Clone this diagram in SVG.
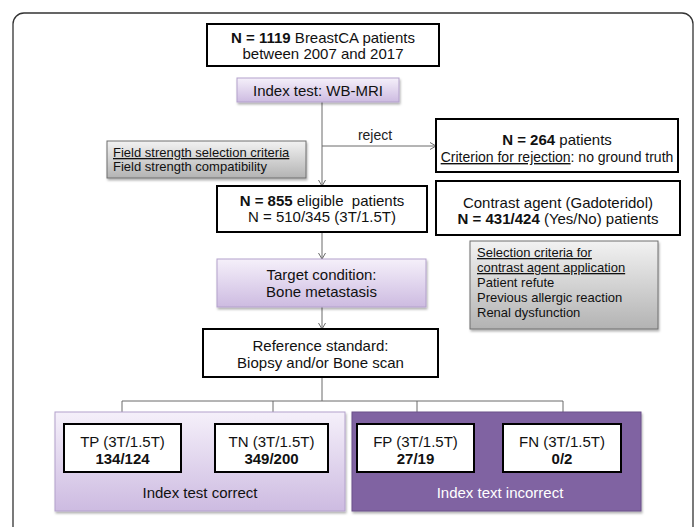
<svg xmlns="http://www.w3.org/2000/svg" width="697" height="527" viewBox="0 0 697 527">
<style>
text{font-family:"Liberation Sans",Arial,sans-serif;font-size:15px;fill:#111;}
.c{text-anchor:middle;}
.s{font-size:13px;}
.b{font-weight:bold;}
.u{text-decoration:underline;}
.wb{fill:#fff;stroke:#000;stroke-width:2;}
.pb{fill:url(#pg);stroke:#b3a1cb;stroke-width:1;filter:url(#sh);}
.gb{fill:url(#gg);stroke:#6e6e6e;stroke-width:1;filter:url(#sh);}
.db{fill:#8064a2;stroke:#6b5189;stroke-width:1;filter:url(#sh);}
.ln{fill:none;stroke:#6a6a6a;stroke-width:1;}
.ar{marker-end:url(#ah);}
</style>
<defs>
<linearGradient id="pg" x1="0" y1="0" x2="0" y2="1"><stop offset="0" stop-color="#f5f0fa"/><stop offset="1" stop-color="#cdbbe1"/></linearGradient>
<linearGradient id="gg" x1="0" y1="0" x2="0" y2="1"><stop offset="0" stop-color="#f2f2f2"/><stop offset="1" stop-color="#b3b3b3"/></linearGradient>
<filter id="sh" x="-10%" y="-10%" width="120%" height="130%"><feDropShadow dx="1" dy="2" stdDeviation="1.2" flood-color="#000" flood-opacity="0.3"/></filter>
<marker id="ah" markerUnits="userSpaceOnUse" markerWidth="10" markerHeight="10" refX="7" refY="4" orient="auto"><path d="M1,0.5 L7,4 L1,7.5" fill="none" stroke="#6a6a6a" stroke-width="1"/></marker>
</defs>
<rect x="0" y="0" width="697" height="527" fill="#fff"/>
<rect x="13" y="13" width="680" height="540" rx="11" fill="none" stroke="#333" stroke-width="1.3"/>

<g id="connectors">
<path class="ln ar" d="M322,102 V186"/>
<path class="ln ar" d="M322,146 H436"/>
<path class="ln ar" d="M322,232 V259"/>
<path class="ln ar" d="M322,307 V329"/>
<path class="ln" d="M322,377 V401 M122,401 H563"/>
<path class="ln ar" d="M122,401 V424"/>
<path class="ln ar" d="M273,401 V424"/>
<path class="ln ar" d="M417,401 V424"/>
<path class="ln ar" d="M563,401 V424"/>
<text class="c" x="375" y="140" style="font-size:14px;fill:#222">reject</text>
</g>

<g id="correct-group"><rect class="pb" x="55" y="412" width="290" height="99"/><text class="c" x="200" y="498">Index test correct</text></g>
<g id="incorrect-group"><rect class="db" x="352" y="412" width="289" height="99"/><text class="c" x="500" y="498" style="fill:#fff">Index text incorrect</text></g>

<g id="n1119"><rect class="wb" x="207" y="24" width="232" height="42"/>
<text class="c" x="323" y="43"><tspan class="b">N = 1119</tspan> BreastCA patients</text>
<text class="c" x="323" y="59">between 2007 and 2017</text></g>

<g id="index-test"><rect class="pb" x="237" y="78" width="162" height="24"/><text class="c" x="318" y="96">Index test: WB-MRI</text></g>

<g id="field-strength"><rect class="gb" x="107" y="141" width="199" height="37"/>
<text class="s" x="113" y="157"><tspan class="u">Field strength selection criteria</tspan></text>
<text class="s" x="113" y="171">Field strength compatibility</text></g>

<g id="n264"><rect class="wb" x="436" y="119" width="242" height="53"/>
<text class="c" x="557" y="145"><tspan class="b">N = 264</tspan> patients</text>
<text class="c" x="557" y="162" style="font-size:14px"><tspan class="u">Criterion for rejection</tspan>: no ground truth</text></g>

<g id="n855"><rect class="wb" x="217" y="186" width="210" height="46"/>
<text class="c" x="322" y="206" xml:space="preserve"><tspan class="b">N = 855</tspan> eligible  patients</text>
<text class="c" x="322" y="222">N = 510/345 (3T/1.5T)</text></g>

<g id="contrast"><rect class="wb" x="436" y="181" width="244" height="54"/>
<text class="c" x="558" y="208">Contrast agent (Gadoteridol)</text>
<text class="c" x="558" y="224"><tspan class="b">N = 431/424</tspan> (Yes/No) patients</text></g>

<g id="selection"><rect class="gb" x="470" y="241" width="188" height="88"/>
<text class="s" x="477" y="257"><tspan class="u">Selection criteria for </tspan></text>
<text class="s" x="477" y="272"><tspan class="u">contrast agent application</tspan></text>
<text class="s" x="477" y="287">Patient refute</text>
<text class="s" x="477" y="302">Previous allergic reaction</text>
<text class="s" x="477" y="317">Renal dysfunction</text></g>

<g id="target"><rect class="pb" x="217" y="259" width="209" height="48"/>
<text class="c" x="321.5" y="280">Target condition:</text>
<text class="c" x="321.5" y="297">Bone metastasis</text></g>

<g id="reference"><rect class="wb" x="203" y="329" width="235" height="48"/>
<text class="c" x="320.5" y="351">Reference standard:</text>
<text class="c" x="320.5" y="368">Biopsy and/or Bone scan</text></g>

<g id="tp"><rect class="wb" x="64" y="424" width="117" height="48"/>
<text class="c" x="122.5" y="447">TP (3T/1.5T)</text><text class="c b" x="122.5" y="464">134/124</text></g>
<g id="tn"><rect class="wb" x="215" y="424" width="113" height="48"/>
<text class="c" x="271.5" y="447">TN (3T/1.5T)</text><text class="c b" x="271.5" y="464">349/200</text></g>
<g id="fp"><rect class="wb" x="357" y="424" width="117" height="48"/>
<text class="c" x="415.5" y="447">FP (3T/1.5T)</text><text class="c b" x="415.5" y="464">27/19</text></g>
<g id="fn"><rect class="wb" x="503" y="424" width="118" height="48"/>
<text class="c" x="562" y="447">FN (3T/1.5T)</text><text class="c b" x="562" y="464">0/2</text></g>
</svg>
